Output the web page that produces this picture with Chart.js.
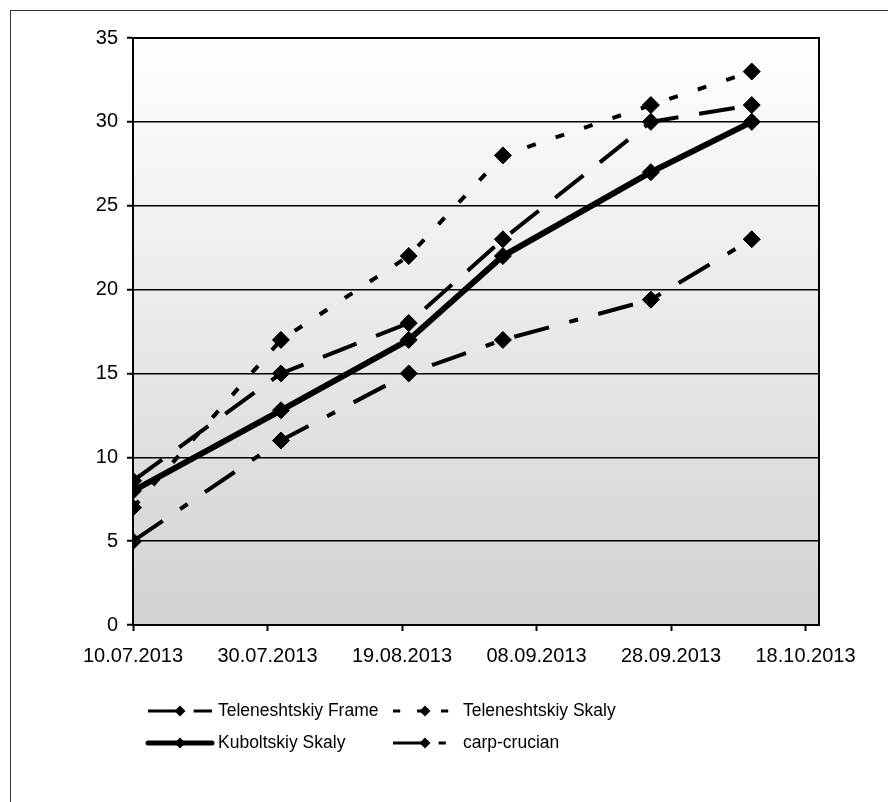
<!DOCTYPE html>
<html>
<head>
<meta charset="utf-8">
<title>Fish growth</title>
<script src="https://cdn.jsdelivr.net/npm/chart.js@4.4.0/dist/chart.umd.min.js"></script>
<style>
  html, body { margin: 0; padding: 0; background: #fff; overflow: hidden; }
  #frame {
    position: absolute; left: 10px; top: 10px; width: 900px; height: 900px;
    border-left: 1px solid #333; border-top: 1px solid #333;
  }
  #chart { position: absolute; left: 0; top: 0; }
</style>
</head>
<body>
<div id="frame"></div>
<canvas id="chart" width="888" height="802"></canvas>
<script>
'use strict';

// sampling dates (dd.mm.yyyy)
var sampleDates = ['10.07.2013', '01.08.2013', '20.08.2013', '03.09.2013', '25.09.2013', '10.10.2013'];

// axis labels
var xTickDates = ['10.07.2013', '30.07.2013', '19.08.2013', '08.09.2013', '28.09.2013', '18.10.2013'];
var xAxisEnd = '20.10.2013';
var yTicks = [0, 5, 10, 15, 20, 25, 30, 35];

// series values
var seriesNames = ['Teleneshtskiy Frame', 'Teleneshtskiy Skaly', 'Kuboltskiy Skaly', 'carp-crucian'];
var teleneshtskiyFrame = [8.6, 15, 18, 23, 30, 31];
var teleneshtskiySkaly = [7, 17, 22, 28, 31, 33];
var kuboltskiySkaly = [8, 12.8, 17, 22, 27, 30];
var carpCrucian = [5, 11, 15, 17, 19.4, 23];

var DAY = 86400000;
var FONT = '"Liberation Sans", Arial, sans-serif';

/**
 * dd.mm.yyyy -> day number
 */
function toDay(s) {
    var p = s.split('.');
    return Date.UTC(+p[2], +p[1] - 1, +p[0]) / DAY;
}

/**
 * day number -> dd.mm.yyyy
 */
function fromDay(d) {
    var dt = new Date(d * DAY);
    var dd = ('0' + dt.getUTCDate()).slice(-2),
        mm = ('0' + (dt.getUTCMonth() + 1)).slice(-2);
    return dd + '.' + mm + '.' + dt.getUTCFullYear();
}

function points(values) {
    return values.map(function(v, i) {
        return {x: toDay(sampleDates[i]), y: v};
    });
}

function series(label, values, width, dash) {
    return {
        label: label,
        data: points(values),
        borderColor: '#000',
        backgroundColor: '#000',
        borderWidth: width,
        borderDash: dash,
        borderCapStyle: 'butt',
        borderJoinStyle: 'miter',
        pointStyle: 'rectRot',
        pointRadius: 8.5,
        pointBorderWidth: 1,
        pointBorderColor: '#000',
        pointBackgroundColor: '#000',
        fill: false,
        tension: 0
    };
}

// plot background and top/right border
var plotArea = {
    id: 'plotArea',
    beforeDraw: function(chart) {
        var a = chart.chartArea, ctx = chart.ctx;
        var g = ctx.createLinearGradient(0, a.top, 0, a.bottom);
        g.addColorStop(0, '#ffffff');
        g.addColorStop(1, '#d2d2d2');
        ctx.save();
        ctx.fillStyle = g;
        ctx.fillRect(a.left, a.top, a.right - a.left, a.bottom - a.top);
        ctx.restore();
    },
    beforeDatasetsDraw: function(chart) {
        var a = chart.chartArea, ctx = chart.ctx;
        ctx.save();
        ctx.strokeStyle = '#000';
        ctx.lineWidth = 2;
        ctx.beginPath();
        ctx.moveTo(a.left, a.top);
        ctx.lineTo(a.right, a.top);
        ctx.lineTo(a.right, a.bottom);
        ctx.stroke();
        ctx.restore();
    }
};

// two-column legend, line sample with a marker in the middle
var sampleLegend = {
    id: 'sampleLegend',
    afterDraw: function(chart, args, opts) {
        var ctx = chart.ctx, top = chart.chartArea.bottom;
        ctx.save();
        ctx.font = opts.fontSize + 'px ' + FONT;
        ctx.fillStyle = '#000';
        ctx.textBaseline = 'middle';
        chart.data.datasets.forEach(function(ds, i) {
            var x = opts.columns[i % 2],
                y = top + opts.rows[Math.floor(i / 2)],
                mid = x + opts.sample / 2,
                r = 5.5;
            ctx.strokeStyle = '#000';
            ctx.lineWidth = ds.borderWidth > 4 ? 5 : 3;
            ctx.lineCap = ds.borderDash.length ? 'butt' : 'round';
            ctx.setLineDash(ds.borderDash.map(function(d) { return d * 0.8; }));
            ctx.beginPath();
            ctx.moveTo(x, y);
            ctx.lineTo(x + opts.sample, y);
            ctx.stroke();
            ctx.setLineDash([]);
            ctx.beginPath();
            ctx.moveTo(mid, y - r);
            ctx.lineTo(mid + r, y);
            ctx.lineTo(mid, y + r);
            ctx.lineTo(mid - r, y);
            ctx.closePath();
            ctx.fill();
            ctx.fillText(ds.label, x + opts.sample + opts.gap, y);
        });
        ctx.restore();
    }
};

var ctx = document.getElementById('chart').getContext('2d');

new Chart(ctx, {
    type: 'line',
    data: {
        datasets: [
            series(seriesNames[0], teleneshtskiyFrame, 4, [36, 21]),
            series(seriesNames[1], teleneshtskiySkaly, 4, [9, 21]),
            series(seriesNames[2], kuboltskiySkaly, 6, []),
            series(seriesNames[3], carpCrucian, 4, [36, 21, 9, 21])
        ]
    },
    options: {
        responsive: false,
        devicePixelRatio: 1,
        animation: false,
        layout: {padding: {left: 0, right: 69, top: 38, bottom: 132}},
        plugins: {
            legend: {display: false},
            tooltip: {enabled: false},
            sampleLegend: {
                columns: [148, 393],
                rows: [86, 118],
                sample: 64,
                gap: 6,
                fontSize: 17.5
            }
        },
        scales: {
            x: {
                type: 'linear',
                min: toDay(xTickDates[0]),
                max: toDay(xAxisEnd),
                afterBuildTicks: function(scale) {
                    scale.ticks = xTickDates.map(function(s) { return {value: toDay(s)}; });
                },
                afterFit: function(scale) { scale.height = 45; },
                border: {display: true, color: '#000', width: 2},
                grid: {
                    drawOnChartArea: false,
                    drawTicks: true,
                    tickLength: 6,
                    tickColor: '#000',
                    tickWidth: 2
                },
                ticks: {
                    color: '#000',
                    padding: 13,
                    maxRotation: 0,
                    autoSkip: false,
                    font: {family: FONT, size: 20},
                    callback: function(v) { return fromDay(v); }
                }
            },
            y: {
                min: yTicks[0],
                max: yTicks[yTicks.length - 1],
                afterBuildTicks: function(scale) {
                    scale.ticks = yTicks.map(function(v) { return {value: v}; });
                },
                afterFit: function(scale) { scale.width = 133; },
                border: {display: true, color: '#000', width: 2},
                grid: {
                    color: '#000',
                    lineWidth: 1.5,
                    drawTicks: true,
                    tickLength: 6,
                    tickColor: '#000',
                    tickWidth: 2
                },
                ticks: {
                    color: '#000',
                    padding: 9,
                    font: {family: FONT, size: 20}
                }
            }
        }
    },
    plugins: [plotArea, sampleLegend]
});
</script>
</body>
</html>
